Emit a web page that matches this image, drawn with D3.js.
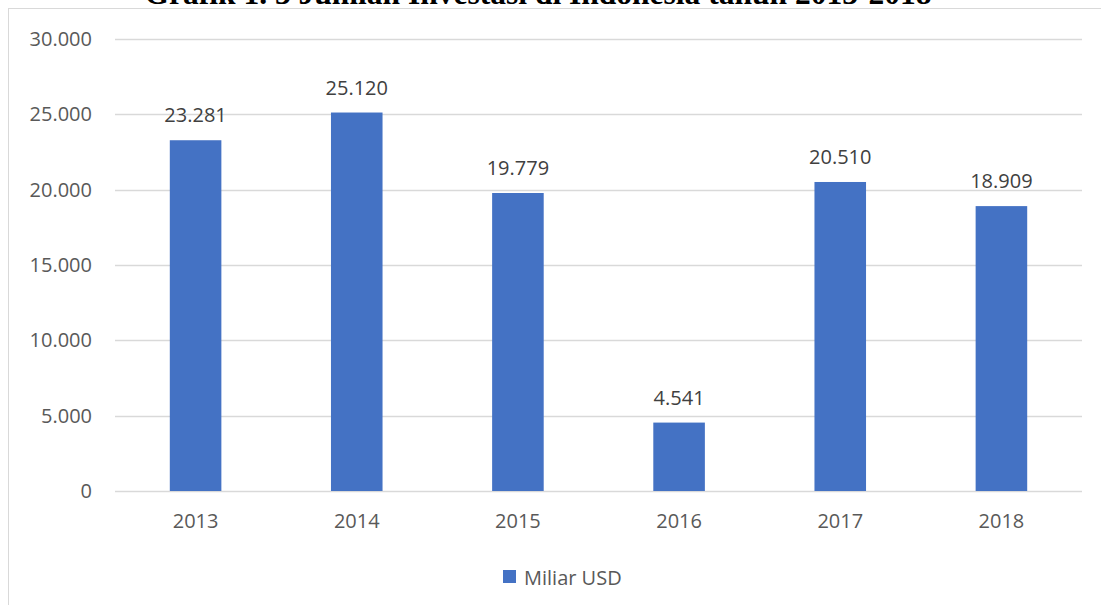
<!DOCTYPE html>
<html>
<head>
<meta charset="utf-8">
<script src="https://cdn.jsdelivr.net/npm/d3@7"></script>
<style>
  html, body { margin: 0; padding: 0; background: #fff; }
  svg { display: block; }
</style>
</head>
<body>
<svg id="chart" width="1101" height="605"></svg>
<script>
// Investment in Indonesia, 2013-2018 (billion USD)
const years = ["2013", "2014", "2015", "2016", "2017", "2018"];
const values = [23281, 25120, 19779, 4541, 20510, 18909];
const yTicks = [0, 5000, 10000, 15000, 20000, 25000, 30000];
const seriesName = "Miliar USD";
const title = "Grafik 1. 3 Jumlah Investasi di Indonesia tahun 2013-2018";

const svg = d3.select("#chart");
const W = 1101, H = 605;
const font = "'Open Sans', sans-serif";
const fontSize = 20;
const barColor = "#4472c4";

// chart frame
svg.append("rect")
  .attr("x", 8.5).attr("y", 8.5)
  .attr("width", W + 20).attr("height", H + 20)
  .attr("fill", "#fff").attr("stroke", "#d9d9d9").attr("stroke-width", 1);

// title, sitting above the frame at the top edge of the page
svg.append("text")
  .attr("x", 538).attr("y", 4)
  .attr("text-anchor", "middle")
  .attr("font-family", "'Liberation Serif', 'Times New Roman', serif")
  .attr("font-weight", "bold")
  .attr("font-size", 31.5)
  .attr("fill", "#000")
  .text(title);

const plot = { left: 115, right: 1082, top: 39, bottom: 491 };

const x = d3.scaleBand().domain(years).range([plot.left, plot.right]).paddingInner(0.68).paddingOuter(0.34);
const y = d3.scaleLinear().domain([0, 30000]).range([plot.bottom, plot.top]);

const fmt = v => d3.format(",")(v).replace(/,/g, ".");

// gridlines
svg.append("g")
  .selectAll("line").data(yTicks).join("line")
  .attr("x1", plot.left).attr("x2", plot.right)
  .attr("y1", d => Math.round(y(d)) + 0.5).attr("y2", d => Math.round(y(d)) + 0.5)
  .attr("stroke", "#d9d9d9").attr("stroke-width", 1.3);

// y axis labels
const yAxis = svg.append("g")
  .attr("transform", `translate(${plot.left - 23},0)`)
  .call(d3.axisLeft(y).tickValues(yTicks).tickSize(0).tickPadding(0).tickFormat(fmt));
yAxis.select(".domain").remove();
yAxis.selectAll("text")
  .attr("font-family", font).attr("font-size", fontSize).attr("fill", "#595959");

// x axis labels
const xAxis = svg.append("g")
  .attr("transform", `translate(0,${plot.bottom})`)
  .call(d3.axisBottom(x).tickSize(0).tickPadding(23));
xAxis.select(".domain").remove();
xAxis.selectAll("text")
  .attr("font-family", font).attr("font-size", fontSize).attr("fill", "#595959");

// bars
svg.append("g")
  .selectAll("rect").data(years).join("rect")
  .attr("x", d => x(d)).attr("width", x.bandwidth())
  .attr("y", (d, i) => y(values[i]))
  .attr("height", (d, i) => y(0) - y(values[i]))
  .attr("fill", barColor);

// value labels
svg.append("g")
  .selectAll("text").data(years).join("text")
  .attr("x", d => x(d) + x.bandwidth() / 2)
  .attr("y", (d, i) => y(values[i]) - 18)
  .attr("text-anchor", "middle")
  .attr("font-family", font).attr("font-size", fontSize).attr("fill", "#404040")
  .text((d, i) => fmt(values[i]));

// legend
const legend = svg.append("g").attr("transform", "translate(503,570)");
legend.append("rect").attr("width", 13).attr("height", 13).attr("fill", barColor);
legend.append("text")
  .attr("x", 21).attr("y", 15)
  .attr("font-family", font).attr("font-size", fontSize).attr("fill", "#595959")
  .text(seriesName);
</script>
</body>
</html>
